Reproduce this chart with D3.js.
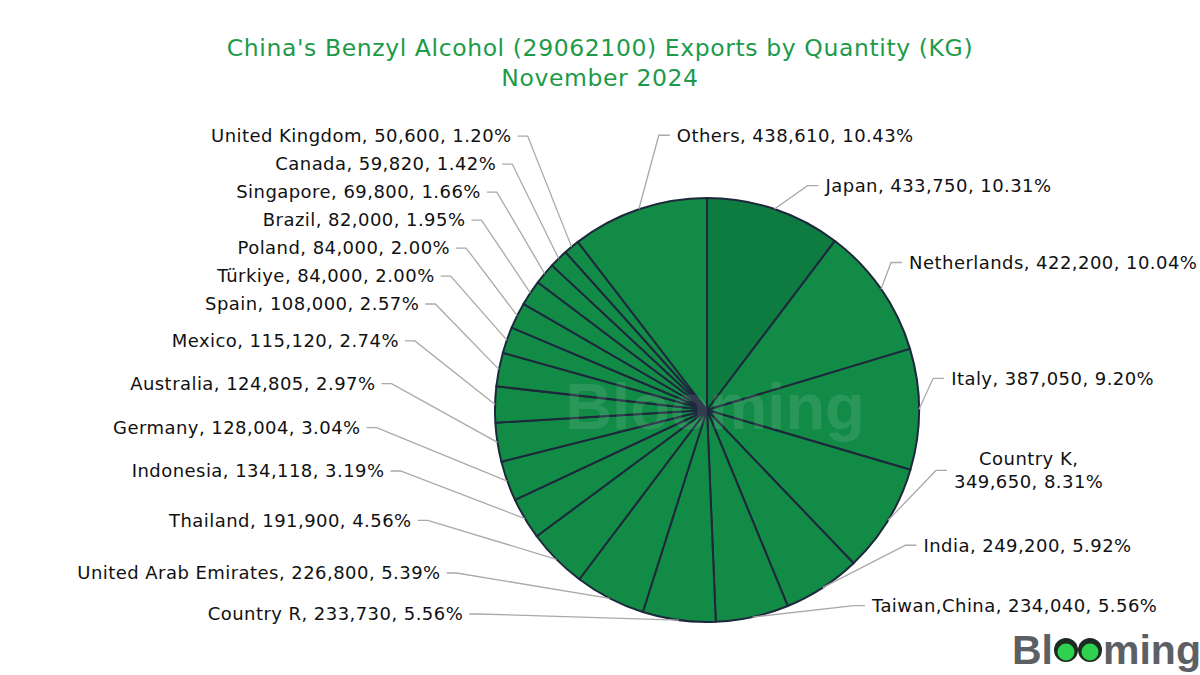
<!DOCTYPE html>
<html>
<head>
<meta charset="utf-8">
<script src="https://cdnjs.cloudflare.com/ajax/libs/d3/7.8.5/d3.min.js"></script>
<style>
  html, body { margin: 0; padding: 0; background: #fff; }
  #chart-area { width: 1200px; height: 675px; }
  text { font-family: "DejaVu Sans", sans-serif; }
  text.brand { font-family: "Liberation Sans", Arial, sans-serif; font-weight: bold; }
</style>
</head>
<body>
<div id="chart-area"></div>
<script>
// data
var countries = ["Japan", "Netherlands", "Italy", "Country K", "India", "Taiwan,China", "Country R",
    "United Arab Emirates", "Thailand", "Indonesia", "Germany", "Australia", "Mexico", "Spain",
    "Türkiye", "Poland", "Brazil", "Singapore", "Canada", "United Kingdom", "Others"];
var quantities = [433750, 422200, 387050, 349650, 249200, 234040, 233730,
    226800, 191900, 134118, 128004, 124805, 115120, 108000,
    84000, 84000, 82000, 69800, 59820, 50600, 438610];
var shares = ["10.31%", "10.04%", "9.20%", "8.31%", "5.92%", "5.56%", "5.56%",
    "5.39%", "4.56%", "3.19%", "3.04%", "2.97%", "2.74%", "2.57%",
    "2.00%", "2.00%", "1.95%", "1.66%", "1.42%", "1.20%", "10.43%"];
var titleLines = ["China's Benzyl Alcohol (29062100) Exports by Quantity (KG)", "November 2024"];

function init() {
    var svgWidth = 1200, svgHeight = 675;
    var cx = 707, cy = 410, radius = 212;

    var svg = d3.select("#chart-area")
        .append("svg")
        .attr("width", svgWidth)
        .attr("height", svgHeight);

    // title
    svg.append("g").selectAll("text")
        .data(titleLines)
        .enter().append("text")
        .attr("x", 600)
        .attr("y", (d, i) => 48 + i * 30)
        .attr("dy", "0.35em")
        .attr("text-anchor", "middle")
        .attr("font-size", "23.5px")
        .attr("letter-spacing", "0.6px")
        .attr("fill", "#1d9a4a")
        .text(d => d)

    var rows = countries.map((c, i) => ({name: c, qty: quantities[i], share: shares[i]}))

    var pie = d3.pie().sort(null).value(d => d.qty)
    var arcs = pie(rows)
    var arc = d3.arc().innerRadius(0).outerRadius(radius)

    var chartGroup = svg.append("g")
        .attr("transform", "translate(" + cx + "," + cy + ")")

    chartGroup.selectAll("path")
        .data(arcs)
        .enter().append("path")
        .attr("d", arc)
        .attr("fill", d => d.index == 0 ? "#0e7b41" : "#128b47")
        .attr("stroke", "#1d283c")
        .attr("stroke-width", 2)
        .attr("stroke-linejoin", "round")

    // faint watermark across the pie
    chartGroup.append("text")
        .attr("class", "brand")
        .attr("x", 8)
        .attr("y", -4)
        .attr("dy", "0.35em")
        .attr("text-anchor", "middle")
        .attr("font-size", "65px")
        .attr("fill", "#ffffff")
        .attr("fill-opacity", 0.1)
        .text("Blooming")

    // label layout
    var fmt = d3.format(",")
    var labels = arcs.map(d => {
        var a = (d.startAngle + d.endAngle) / 2
        var deg = a * 180 / Math.PI
        var naturalRight = deg < 180
        // the big slice just left of 12 o'clock gets its label on the right, as in the reference
        var right = naturalRight || deg > 335
        var ex = Math.sin(a) * radius, ey = -Math.cos(a) * radius
        var pref
        if (right && !naturalRight) pref = ey - 74
        else if (right && deg < 90) pref = -31 - 204 * Math.cos(a)
        else if (right) pref = -31 + 2.92 * (deg - 90)
        else pref = 44.6 - 170 * Math.cos(a) - 68.4 * (a - Math.PI)
        return {d: d, a: a, deg: deg, right: right, mismatch: right && !naturalRight,
            ex: ex, ey: ey, y: pref,
            text: d.data.name + ", " + fmt(d.data.qty) + ", " + d.data.share}
    })

    // spread out labels that are too close, a few passes
    function relax(list, gap) {
        list.sort((p, q) => p.y - q.y)
        for (var it = 0; it < 300; it++) {
            var moved = false
            for (var i = 1; i < list.length; i++) {
                var diff = list[i].y - list[i - 1].y
                if (diff < gap - 0.01) {
                    var s = (gap - diff) / 2
                    list[i].y += s
                    list[i - 1].y -= s
                    moved = true
                }
            }
            if (!moved) break
        }
    }
    relax(labels.filter(l => !l.right), 28)
    relax(labels.filter(l => l.right), 30)

    labels.forEach(l => {
        var dy = l.y
        if (l.mismatch) {
            l.bx = l.ex + 20
        } else if (l.right) {
            var rA = dy < 0 ? 228 : 236, rB = 250
            l.bx = rA * Math.sqrt(Math.max(1 - dy * dy / (rB * rB), 0))
        } else {
            l.bx = -((dy < 0 ? 330 : 340) - 0.55 * Math.abs(dy))
        }
        l.hx = l.bx + (l.right ? 11 : -10)
        l.tx = l.bx + (l.right ? 18 : -16)
    })

    var labelGroup = chartGroup.append("g")

    labelGroup.selectAll("polyline")
        .data(labels)
        .enter().append("polyline")
        .attr("points", l => [[l.ex, l.ey], [l.bx, l.y], [l.hx, l.y]].map(p => p.join(",")).join(" "))
        .attr("fill", "none")
        .attr("stroke", "#a9a9a9")
        .attr("stroke-width", 1.3)

    var texts = labelGroup.selectAll("text")
        .data(labels)
        .enter().append("text")
        .attr("x", l => l.tx)
        .attr("y", l => l.y)
        .attr("dy", "0.35em")
        .attr("text-anchor", l => l.right ? "start" : "end")
        .attr("font-size", "18px")
        .attr("letter-spacing", "0.45px")
        .attr("fill", "#111")
        .text(l => l.text)

    // wrap a right label that would run off the page into two centred lines
    texts.each(function(l) {
        var t = d3.select(this)
        var w = this.getComputedTextLength()
        if (l.right && cx + l.tx + w > svgWidth) {
            var cut = l.text.indexOf(", ")
            var parts = [l.text.slice(0, cut + 1), l.text.slice(cut + 2)]
            t.text(null).attr("text-anchor", "middle")
            var spans = parts.map((p, i) => t.append("tspan")
                .attr("dy", i == 0 ? "-0.3em" : "1.3em")
                .text(p))
            var maxW = d3.max(spans, s => s.node().getComputedTextLength())
            spans.forEach(s => s.attr("x", l.tx + maxW / 2))
        }
    })

    // logo, bottom right
    var logo = svg.append("g").attr("transform", "translate(1012,664)")
    var bl = logo.append("text")
        .attr("class", "brand")
        .attr("font-size", "41px")
        .attr("fill", "#5c6064")
        .text("Bl")
    var blW = bl.node().getComputedTextLength()
    var eyes = [blW + 13, blW + 37]
    eyes.forEach(x => {
        logo.append("circle").attr("cx", x).attr("cy", -14).attr("r", 12).attr("fill", "#1c2a22")
        logo.append("circle").attr("cx", x).attr("cy", -12).attr("r", 8.5).attr("fill", "#2fd24f")
    })
    logo.append("text")
        .attr("class", "brand")
        .attr("x", blW + 50)
        .attr("font-size", "41px")
        .attr("fill", "#5c6064")
        .text("ming")
}

window.addEventListener('load', init, false)
</script>
</body>
</html>
